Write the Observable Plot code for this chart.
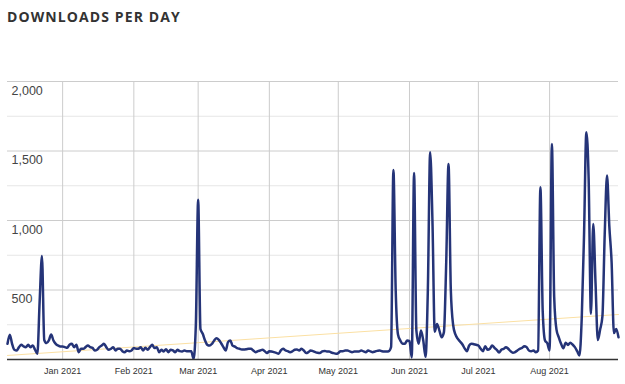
<!DOCTYPE html>
<html>
<head>
<meta charset="utf-8">
<script src="https://cdn.jsdelivr.net/npm/d3@7"></script>
<script src="https://cdn.jsdelivr.net/npm/@observablehq/plot@0.6"></script>
<style>
  html, body { margin: 0; padding: 0; background: #fff; }
  #title { height: 20px; padding: 10px 0 0 7px; font-family: "Open Sans", sans-serif; font-weight: 700;
           font-size: 14px; line-height: 14px; letter-spacing: 1.1px; color: #333; }
  #chart svg { display: block; }
</style>
</head>
<body>
<div id="title">DOWNLOADS PER DAY</div>
<div id="chart"></div>
<script>
// Daily downloads, one array per month (first day of dec2020 is 2020-12-08)
const dec2020 = [113,178,113,70,65,89,106,94,89,106,89,101,70,41,420,745,140,118,137,180,137,113,101,94];
const jan2021 = [94,89,84,106,113,89,106,53,77,77,89,101,89,84,65,70,89,101,113,89,70,77,89,65,77,77,60,53,65,60,65];
const feb2021 = [82,77,77,89,65,84,70,89,106,82,89,53,70,58,74,53,70,65,53,70,60,58,65,60,60,60,5,250];
const mar2021 = [1150,220,185,137,105,100,113,137,153,141,117,89,65,125,137,100,93,81,77,72,72,74,77,77,65,53,60,65,70,60,46];
const apr2021 = [60,58,53,48,41,65,77,65,60,53,58,70,72,65,77,65,46,53,65,60,53,48,46,58,62,58,58,50,46,41];
const may2021 = [46,60,60,65,65,58,53,58,58,58,65,58,53,65,58,53,58,62,65,60,58,58,60,90,1364,500,180,137,113,113,137];
const jun2021 = [132,15,1342,210,113,208,137,20,500,1491,1000,200,256,210,160,197,700,1407,500,250,180,150,130,110,80,60,101,113,110,106];
const jul2021 = [101,77,60,96,70,77,101,84,70,50,70,77,89,77,60,48,53,65,77,84,96,89,65,60,65,53,65,1239,350,137,117];
const aug2021 = [65,1551,450,215,160,113,81,120,105,120,108,89,60,29,300,900,1635,1300,330,975,550,140,215,310,900,1323,960,700,190,220,160];

const firstDay = "2020-12-08";
const lastDay = "2021-08-31";

// Trend line end values
const trendValues = [29, 324];

// Axis ticks
const monthTicks = ["2021-01-01","2021-02-01","2021-03-01","2021-04-01","2021-05-01","2021-06-01","2021-07-01","2021-08-01"];
const monthLabels = ["Jan 2021","Feb 2021","Mar 2021","Apr 2021","May 2021","Jun 2021","Jul 2021","Aug 2021"];
const yMajorTicks = [500, 1000, 1500, 2000];
const yMajorLabels = ["500", "1,000", "1,500", "2,000"];
const yMinorTicks = [250, 750, 1250, 1750];

const allValues = [].concat(dec2020, jan2021, feb2021, mar2021, apr2021, may2021, jun2021, jul2021, aug2021);
const start = new Date(firstDay);
const data = allValues.map((v, i) => ({date: new Date(start.getTime() + i * 864e5), value: v}));
const trend = [{date: new Date(firstDay), value: trendValues[0]}, {date: new Date(lastDay), value: trendValues[1]}];
const monthDates = monthTicks.map(d => new Date(d));

const chart = Plot.plot({
  width: 625,
  height: 354,
  marginLeft: 7,
  marginRight: 7,
  marginTop: 51,
  marginBottom: 25,
  x: {type: "utc", domain: [new Date(firstDay), new Date(lastDay)], axis: null},
  y: {domain: [0, 2000], axis: null},
  style: {fontFamily: "'Liberation Sans', Arial, sans-serif", background: "white"},
  marks: [
    Plot.ruleY(yMinorTicks, {stroke: "#e6e6e6", strokeWidth: 1}),
    Plot.ruleY(yMajorTicks, {stroke: "#cccccc", strokeWidth: 1}),
    Plot.ruleX(monthDates, {stroke: "#cccccc", strokeWidth: 1}),
    Plot.line(trend, {x: "date", y: "value", stroke: "#fbe0a3", strokeWidth: 1}),
    Plot.line(data, {x: "date", y: "value", stroke: "#253478", strokeWidth: 2.5, curve: "monotone-x"}),
    Plot.ruleY([0], {stroke: "#333333", strokeWidth: 1.5}),
    Plot.text(yMajorTicks, {y: d => d, text: (d, i) => yMajorLabels[i], frameAnchor: "left", textAnchor: "start",
      lineAnchor: "top", dx: 4, dy: 4.5, fontSize: 12.5, fill: "#444"}),
    Plot.text(monthDates, {x: d => d, text: (d, i) => monthLabels[i], frameAnchor: "bottom",
      lineAnchor: "top", dy: 8, fontSize: 9, fill: "#333"})
  ]
});
document.getElementById("chart").appendChild(chart);
</script>
</body>
</html>
